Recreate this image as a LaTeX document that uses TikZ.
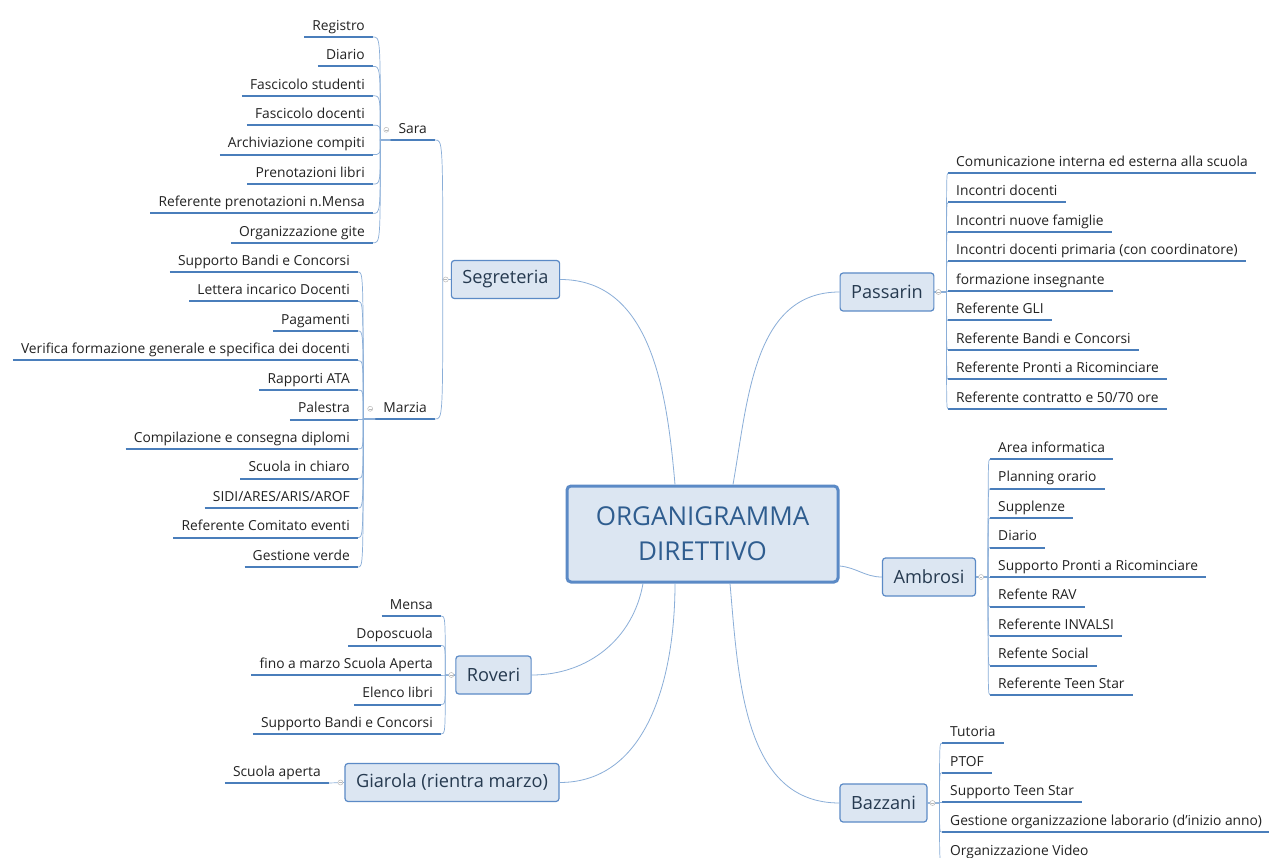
\documentclass[tikz,border=0pt]{standalone}
\usepackage{fontspec}
\setmainfont{Open Sans}
\usepackage{tikz}
\usepackage{xcolor}

\definecolor{boxfill}{HTML}{DCE6F2}
\definecolor{boxline}{HTML}{5B8AC6}
\definecolor{linkblue}{HTML}{8AAED8}
\definecolor{ulblue}{HTML}{4A7EBB}
\definecolor{headblue}{HTML}{2F5D8F}
\definecolor{darktext}{HTML}{222222}
\definecolor{branchtext}{HTML}{263A50}

\tikzset{
  topic/.style={draw=boxline, line width=3pt, fill=boxfill, rounded corners=4pt,
    minimum width=271pt, minimum height=96pt, align=center, text=headblue,
    font=\fontsize{26}{35}\selectfont},
  branch/.style={draw=boxline, line width=1.2pt, fill=boxfill, rounded corners=3pt,
    minimum height=38pt, inner xsep=11pt, text=branchtext,
    font=\fontsize{18.2}{21}\selectfont},
  leaf/.style={inner xsep=8pt, inner ysep=3.5pt, text height=10pt, text depth=3pt,
    text=darktext, font=\fontsize{13.8}{16}\selectfont},
  uline/.style={draw=ulblue, line width=2pt},
  link/.style={draw=linkblue, line width=0.8pt},
  twig/.style={draw=linkblue, line width=0.7pt},
  knob/.style={draw=gray!55, fill=white, line width=0.5pt},
}

\begin{document}
\begin{tikzpicture}[x=1pt,y=1pt]
        \path[use as bounding box, fill=white] (0,0) rectangle (1269,-858);

        % Centre
        \node[topic] (top) at (702.5,-534) {ORGANIGRAMMA\\DIRETTIVO};

        % Branches
        \node[branch] (seg) at (505.5,-279.5) {Segreteria};
        \node[branch] (rov) at (493.5,-675) {Roveri};
        \node[branch] (gia) at (452,-782.5) {Giarola (rientra marzo)};
        \node[branch] (pas) at (887,-292) {Passarin};
        \node[branch] (amb) at (929,-577) {Ambrosi};
        \node[branch] (baz) at (883.5,-803) {Bazzani};

        % Centre to branches
        \draw[link] ([xshift=-27.5pt]top.north) to[out=95, in=0] (seg.east);
        \draw[link] ([xshift=30.5pt]top.north) to[out=80, in=180] (pas.west);
        \draw[link] ([yshift=-32pt]top.east) to[out=-5, in=180] (amb.west);
        \draw[link] ([xshift=-59.5pt]top.south) to[out=-100, in=0] (rov.east);
        \draw[link] ([xshift=-27.5pt]top.south) to[out=-90, in=0] (gia.east);
        \draw[link] ([xshift=27.5pt]top.south) to[out=-85, in=180] (baz.west);

        % Segreteria: Sara and Marzia
        \coordinate (segj) at ([xshift=-8pt]seg.west);
        \node[leaf, anchor=south east] (sara) at (435,-140) {Sara};
        \node[leaf, anchor=south east] (marzia) at (435,-419) {Marzia};
        \draw[uline] (sara.south west) -- (sara.south east);
        \draw[uline] (marzia.south west) -- (marzia.south east);
        \draw[twig] (seg.west) -- (segj) .. controls (segj |- sara.south east) .. (sara.south east);
        \draw[twig] (segj) .. controls (segj |- marzia.south east) .. (marzia.south east);

        \coordinate (saj) at ([xshift=-10pt]sara.south west);
        \foreach \t [count=\i] in {Registro, Diario, Fascicolo studenti, Fascicolo docenti,
            Archiviazione compiti, Prenotazioni libri, Referente prenotazioni n.Mensa,
            Organizzazione gite}{
          \node[leaf, anchor=south east] (sa\i) at (373,{-37-29.4*(\i-1)}) {\t};
          \draw[uline] (sa\i.south west) -- (sa\i.south east);
          \draw[twig] (sara.south west) -- (saj) .. controls (saj |- sa\i.south east) .. (sa\i.south east);
        }

        \coordinate (maj) at ([xshift=-12pt]marzia.south west);
        \foreach \t [count=\i] in {Supporto Bandi e Concorsi, Lettera incarico Docenti, Pagamenti,
            Verifica formazione generale e specifica dei docenti, Rapporti ATA, Palestra,
            Compilazione e consegna diplomi, Scuola in chiaro, {SIDI/ARES/ARIS/AROF},
            Referente Comitato eventi, Gestione verde}{
          \node[leaf, anchor=south east] (ma\i) at (358,{-272-29.5*(\i-1)}) {\t};
          \draw[uline] (ma\i.south west) -- (ma\i.south east);
          \draw[twig] (marzia.south west) -- (maj) .. controls (maj |- ma\i.south east) .. (ma\i.south east);
        }

        % Roveri
        \coordinate (roj) at ([xshift=-10pt]rov.west);
        \foreach \t [count=\i] in {Mensa, Doposcuola, fino a marzo Scuola Aperta, Elenco libri,
            Supporto Bandi e Concorsi}{
          \node[leaf, anchor=south east] (ro\i) at (441,{-616-29.5*(\i-1)}) {\t};
          \draw[uline] (ro\i.south west) -- (ro\i.south east);
          \draw[twig] (rov.west) -- (roj) .. controls (roj |- ro\i.south east) .. (ro\i.south east);
        }

        % Giarola
        \node[leaf, anchor=south east] (gi1) at (329,-783) {Scuola aperta};
        \draw[uline] (gi1.south west) -- (gi1.south east);
        \draw[twig] (gia.west) -- (gi1.south east);

        % Passarin
        \coordinate (paj) at ([xshift=12pt]pas.east);
        \foreach \t [count=\i] in {Comunicazione interna ed esterna alla scuola, Incontri docenti,
            Incontri nuove famiglie, {Incontri docenti primaria (con coordinatore)},
            formazione insegnante, Referente GLI, Referente Bandi e Concorsi,
            Referente Pronti a Ricominciare, {Referente contratto e 50/70 ore}}{
          \node[leaf, anchor=south west] (pa\i) at (948,{-173-29.5*(\i-1)}) {\t};
          \draw[uline] (pa\i.south west) -- (pa\i.south east);
          \draw[twig] (pas.east) -- (paj) .. controls (paj |- pa\i.south west) .. (pa\i.south west);
        }

        % Ambrosi
        \coordinate (amj) at ([xshift=12pt]amb.east);
        \foreach \t [count=\i] in {Area informatica, Planning orario, Supplenze, Diario,
            Supporto Pronti a Ricominciare, Refente RAV, Referente INVALSI, Refente Social,
            Referente Teen Star}{
          \node[leaf, anchor=south west] (am\i) at (990,{-459-29.5*(\i-1)}) {\t};
          \draw[uline] (am\i.south west) -- (am\i.south east);
          \draw[twig] (amb.east) -- (amj) .. controls (amj |- am\i.south west) .. (am\i.south west);
        }

        % Bazzani
        \coordinate (bzj) at ([xshift=12pt]baz.east);
        \foreach \t [count=\i] in {Tutoria, PTOF, Supporto Teen Star,
            {Gestione organizzazione laborario (d'inizio anno)}, Organizzazione Video}{
          \node[leaf, anchor=south west] (bz\i) at (942,{-743-29.7*(\i-1)}) {\t};
          \draw[uline] (bz\i.south west) -- (bz\i.south east);
          \draw[twig] (baz.east) -- (bzj) .. controls (bzj |- bz\i.south west) .. (bz\i.south west);
        }

        % Collapse knobs
        \foreach \k/\s in {seg.west/-5, rov.west/-4, gia.west/-4, sara.west/-4, marzia.west/-5,
            pas.east/4, amb.east/5, baz.east/5}{
          \filldraw[knob] ([xshift=\s pt]\k) circle (2.5pt);
          \draw[gray!55, line width=0.4pt] ([xshift=\s pt-1.3pt]\k) -- ([xshift=\s pt+1.3pt]\k);
        }
    \end{tikzpicture}
\end{document}
